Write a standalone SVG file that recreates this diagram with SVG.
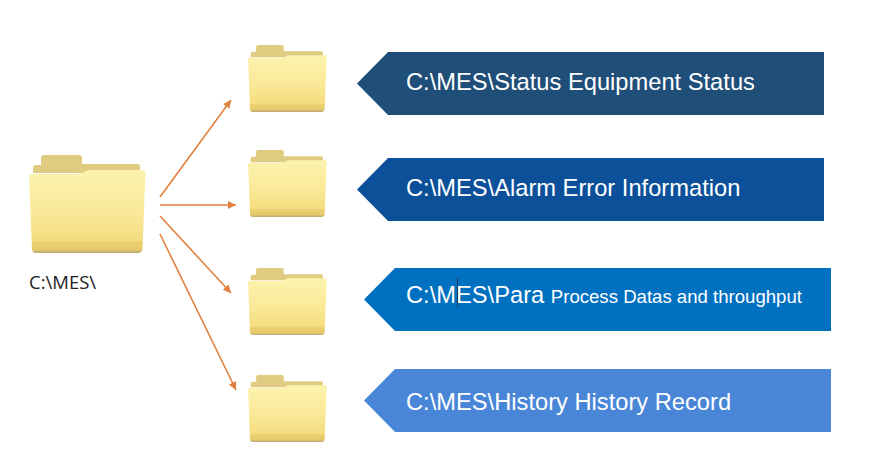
<svg xmlns="http://www.w3.org/2000/svg" xmlns:xlink="http://www.w3.org/1999/xlink" width="870" height="463" viewBox="0 0 870 463">
<style>
.conn{stroke:#e2813f;stroke-width:1.6;fill:none;marker-end:url(#ah)}
.t{font-family:"Liberation Sans",Arial,sans-serif;fill:#fff;font-size:23.700px}
.s{font-size:18.600px}
</style>
<defs>
<marker id="ah" markerUnits="userSpaceOnUse" markerWidth="9" markerHeight="8" refX="8" refY="4" orient="auto"><path d="M0 0L8 4L0 8Z" fill="#e2813f"/></marker>
<linearGradient id="fg" x1="0" y1="0" x2="0" y2="1"><stop offset="0" stop-color="#fcf3ae"/><stop offset="0.5" stop-color="#fae999"/><stop offset="0.85" stop-color="#f5dc80"/><stop offset="0.86" stop-color="#ecd272"/><stop offset="0.96" stop-color="#e5c86a"/><stop offset="1" stop-color="#b9a878"/></linearGradient>
<symbol id="folder" viewBox="29 155 117 98" preserveAspectRatio="none">
<path d="M33 176V168Q33 165 36 165H41V158Q41 155 44 155H79Q82 155 82 158V164H138Q140 164 140 167V173H33Z" fill="#e0cc80"/>
<path d="M29 175Q29 174 32 174H78Q82 174 85 171.500Q87 170 90 170H143Q145.500 170 145.500 172L142.500 249Q142 253 138 253H36Q32 253 32 249Z" fill="url(#fg)"/>
</symbol>
</defs>
<rect width="870" height="463" fill="#fff"/>
<g id="connectors">
<path class="conn" d="M160 197L231 100"/>
<path class="conn" d="M160 205L236 205"/>
<path class="conn" d="M160 216L231 293"/>
<path class="conn" d="M160 234L236 390"/>
</g>
<g id="root-folder"><use xlink:href="#folder" href="#folder" x="29" y="155" width="117" height="98"/>
<text x="29" y="289" font-family="'Open Sans','Liberation Sans',sans-serif" font-size="18.500" fill="#222">C:\MES\</text></g>
<g id="folder-status"><use xlink:href="#folder" href="#folder" x="248" y="45" width="79" height="67"/></g>
<g id="folder-alarm"><use xlink:href="#folder" href="#folder" x="248" y="150" width="79" height="67"/></g>
<g id="folder-para"><use xlink:href="#folder" href="#folder" x="248" y="268" width="79" height="67"/></g>
<g id="folder-history"><use xlink:href="#folder" href="#folder" x="248" y="375" width="79" height="67"/></g>
<g id="banner-status"><path d="M357 83.500L388 52H824V115H388Z" fill="#1f4e79"/><text class="t" x="406" y="90">C:\MES\Status Equipment Status</text></g>
<g id="banner-alarm"><path d="M357 189.500L388 158H824V221H388Z" fill="#0b5099"/><text class="t" x="406" y="196">C:\MES\Alarm Error Information</text></g>
<g id="banner-para"><path d="M364 299.500L395 268H831V331H395Z" fill="#0070c0"/><text class="t" x="406" y="303">C:\MES\Para <tspan class="s">Process Datas and throughput</tspan></text><path d="M457.500 278V307" stroke="#1a3a5c" stroke-width="1"/></g>
<g id="banner-history"><path d="M364 400.500L395 369H831V432H395Z" fill="#4a86d8"/><text class="t" x="406" y="410">C:\MES\History History Record</text></g>
</svg>
